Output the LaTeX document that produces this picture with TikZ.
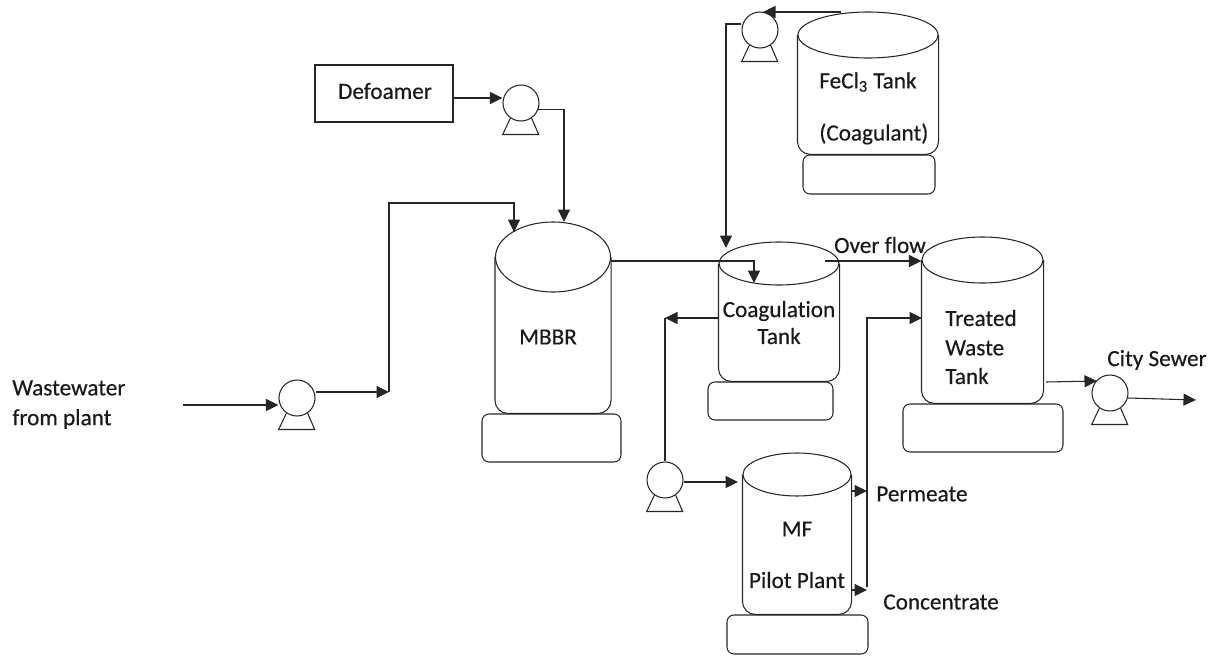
\documentclass[tikz,border=0pt]{standalone}
\usepackage{fontspec}
\setmainfont[Ligatures=NoCommon, FakeBold=0.4]{Carlito}
\usetikzlibrary{arrows.meta, shapes.geometric, calc}
\def\u{0.02cm}
\tikzset{
  pipe/.style={line width=0.6pt, black!85},
  flow/.style={pipe, -{Triangle[length=0.25cm, width=0.24cm]}},
  lid/.style={draw=black!85, line width=0.6pt, ellipse, inner sep=0pt},
  plinth/.style={draw=black!85, line width=0.6pt, rectangle, rounded corners=0.14cm, inner sep=0pt},
  shell/.style={pipe, rounded corners=0.26cm},
  rotor/.style={draw=black!85, line width=0.6pt, circle, inner sep=0pt, minimum size=36*\u},
  tag/.style={font=\fontsize{13.2}{16}\selectfont, text=black!90, inner sep=0pt},
}
\newcommand{\pumpat}[3]{
  \node[rotor] (#1) at (#2,#3) {};
  \draw[pipe] (#1.235) -- ++(-7.7,16.3) -- ++(36,0) -- (#1.305);
}
\begin{document}
\begin{tikzpicture}[x=0.02cm, y=-0.02cm]
  \useasboundingbox (0,0) rectangle (1218,656);
  % Tanks
  \node[lid, minimum width=115*\u, minimum height=70*\u] (mbbrlid) at (553,257) {};
  \node[plinth, minimum width=139*\u, minimum height=48*\u] (mbbrbase) at (551.5,438) {};
  \draw[shell] (mbbrlid.west) -- (mbbrlid.west |- mbbrbase.north) -- (mbbrlid.east |- mbbrbase.north) -- (mbbrlid.east);
  \node[lid, minimum width=120*\u, minimum height=43*\u] (coaglid) at (779,263.5) {};
  \node[plinth, minimum width=125*\u, minimum height=38*\u] (coagbase) at (770.5,401) {};
  \draw[shell] (coaglid.west) -- (coaglid.west |- coagbase.north) -- (coaglid.east |- coagbase.north) -- (coaglid.east);
  \node[lid, minimum width=140*\u, minimum height=46*\u] (ferriclid) at (868,35) {};
  \node[plinth, minimum width=132*\u, minimum height=39*\u] (ferricbase) at (869,174.5) {};
  \draw[shell] (ferriclid.west) -- (ferriclid.west |- ferricbase.north) -- (ferriclid.east |- ferricbase.north) -- (ferriclid.east);
  \node[lid, minimum width=121*\u, minimum height=46*\u] (treatedlid) at (982.5,260) {};
  \node[plinth, minimum width=160*\u, minimum height=48*\u] (treatedbase) at (983,428) {};
  \draw[shell] (treatedlid.west) -- (treatedlid.west |- treatedbase.north) -- (treatedlid.east |- treatedbase.north) -- (treatedlid.east);
  \node[lid, minimum width=108*\u, minimum height=43*\u] (mflid) at (797,474.5) {};
  \node[plinth, minimum width=141*\u, minimum height=39*\u] (mfbase) at (797.5,634.5) {};
  \draw[shell] (mflid.west) -- (mflid.west |- mfbase.north) -- (mflid.east |- mfbase.north) -- (mflid.east);
  % Defoamer box
  \node[draw=black!85, line width=0.6pt, minimum width=138*\u, minimum height=57*\u, inner sep=0pt] (defoamer) at (384,93.5) {};
  % Pumps
  \pumpat{feedpump}{297}{398}
  \pumpat{dosepump}{521}{103}
  \pumpat{ferricpump}{760}{30}
  \pumpat{mfpump}{665}{480}
  \pumpat{sewerpump}{1110}{393}
  % Labels
  \node[tag, anchor=west] (wastewater) at (12,388) {Wastewater};
  \node[tag, anchor=west] (fromplant) at (12,419) {from plant};
  \node[tag] (defoamertag) at (385,91) {Defoamer};
  \node[tag] (mbbrtag) at (548,337) {MBBR};
  \node[tag, anchor=west] (ferrictag) at (819,82) {FeCl\textsubscript{3} Tank};
  \node[tag, anchor=west] (coagulanttag) at (819,134) {(Coagulant)};
  \node[tag] (coagtag) at (779,311) {Coagulation};
  \node[tag] (coagtag2) at (779,336) {Tank};
  \node[tag] (overflow) at (880,245) {Over flow};
  \node[tag, anchor=west] (treatedtag) at (945,318) {Treated};
  \node[tag, anchor=west] (treatedtag2) at (945,348) {Waste};
  \node[tag, anchor=west] (treatedtag3) at (945,376) {Tank};
  \node[tag] (sewertag) at (1157,360) {City Sewer};
  \node[tag] (mftag) at (797,529) {MF};
  \node[tag] (mftag2) at (797,580) {Pilot Plant};
  \node[tag, anchor=west] (permeate) at (876,494) {Permeate};
  \node[tag, anchor=west] (concentrate) at (883,602) {Concentrate};
  % Free ends of the pipes
  \coordinate (wasteend) at (183,405);
  \coordinate (riser) at (389,392);
  \coordinate (mbbrfeed) at (514,232);
  \coordinate (dosein) at (564,222);
  \coordinate (coagin) at (754,283);
  \coordinate (ferricout) at (841,12);
  \coordinate (ferrichead) at (763,12);
  \coordinate (coagdose) at (726,248);
  \coordinate (spill) at (825,261);
  \coordinate (coagout) at (665,318);
  \coordinate (mfin) at (738,482);
  \coordinate (permeatehead) at (867,491);
  \coordinate (concentratehead) at (867,590);
  \coordinate (returnin) at (922,318);
  \coordinate (sewerin) at (1046,382);
  \coordinate (sewerhead) at (1097,381);
  \coordinate (sewerfrom) at (1128,398);
  \coordinate (sewerout) at (1196,400);
  % Pipes
  \draw[flow] (wasteend) -- (feedpump.west |- wasteend);
  \draw[flow] (feedpump.east |- riser) -- (riser);
  \draw[pipe] (riser) -- (riser |- 0,203) -- (mbbrfeed |- 0,203) -- (mbbrfeed);
  \draw[flow] (mbbrfeed |- 0,215) -- (mbbrfeed);
  \draw[flow] (defoamer.east |- 0,98) -- (dosepump.west |- 0,98);
  \draw[flow] (dosepump.340) -- (dosein |- dosepump.340) -- (dosein);
  \draw[flow] (mbbrlid.east |- 0,261) -- (coagin |- 0,261) -- (coagin);
  \draw[flow] (ferricout) -- (ferrichead);
  \draw[flow] (ferricpump.west |- 0,24) -- (coagdose |- 0,24) -- (coagdose);
  \draw[flow] (spill) -- (treatedlid.west |- spill);
  \draw[flow] (coaglid.west |- coagout) -- (coagout);
  \draw[pipe] (coagout) -- (mfpump.north);
  \draw[flow] (mfpump.east |- mfin) -- (mfin);
  \draw[flow] (mflid.east |- permeatehead) -- (permeatehead);
  \draw[flow] (mflid.east |- concentratehead) -- (concentratehead);
  \draw[flow] (concentratehead |- 0,587) -- (concentratehead |- returnin) -- (returnin);
  \draw[flow] (sewerin) -- (sewerhead);
  \draw[flow] (sewerfrom) -- (sewerout);
\end{tikzpicture}
\end{document}
